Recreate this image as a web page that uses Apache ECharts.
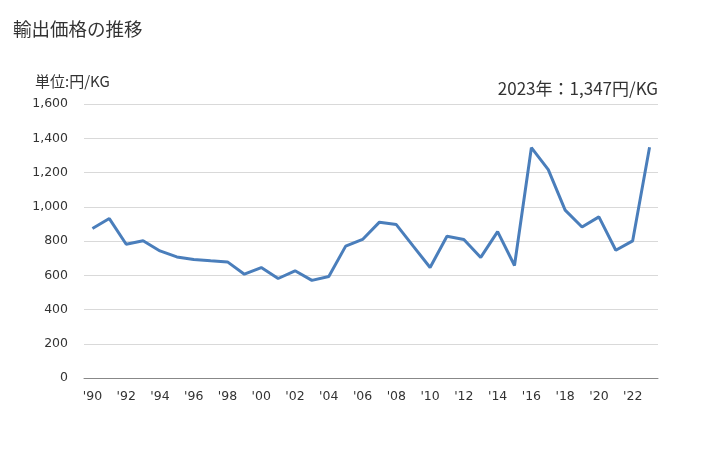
<!DOCTYPE html>
<html><head><meta charset="utf-8">
<script src="https://cdn.jsdelivr.net/npm/echarts@6/dist/echarts.min.js"></script>
<style>html,body{margin:0;padding:0;background:#fff}#c{width:728px;height:450px}</style>
</head><body><div id="c"></div>
<script>
const years = ["'90","'91","'92","'93","'94","'95","'96","'97","'98","'99","'00","'01","'02","'03","'04","'05","'06","'07","'08","'09","'10","'11","'12","'13","'14","'15","'16","'17","'18","'19","'20","'21","'22","'23"];
const values = [873,931,781,801,742,707,692,684,678,606,645,581,626,570,593,770,809,910,896,770,645,828,809,704,855,657,1345,1217,980,882,941,746,801,1347];
const yTicks = [0,200,400,600,800,1000,1200,1400,1600];
const font = "'Noto Sans CJK JP', sans-serif";
const chart = echarts.init(document.getElementById('c'));
chart.setOption({
  animation:false,
  textStyle:{fontFamily:font},
  title:[
    {text:'輸出価格の推移',left:8,top:15,textStyle:{fontSize:18.5,fontWeight:'normal',color:'#333',fontFamily:font}},
    {text:'単位:円/KG',left:30,top:69,textStyle:{fontSize:15,fontWeight:'normal',color:'#333',fontFamily:font}},
    {text:'2023年：1,347円/KG',right:65,top:75,textStyle:{fontSize:17,fontWeight:'normal',color:'#333',fontFamily:font}}
  ],
  grid:{left:84,right:70,top:104,bottom:72,containLabel:false},
  xAxis:{type:'category',data:years,boundaryGap:true,
    axisLine:{lineStyle:{color:'#888'}},axisTick:{show:false},
    axisLabel:{interval:1,color:'#333',fontSize:12.5,margin:12,fontFamily:'DejaVu Sans'}},
  yAxis:{type:'value',min:yTicks[0],max:yTicks[yTicks.length-1],interval:200,
    axisLine:{show:false},axisTick:{show:false},
    splitLine:{lineStyle:{color:'#d9d9d9'}},
    axisLabel:{color:'#333',fontSize:12.5,margin:16,fontFamily:'DejaVu Sans',formatter:v=>v.toLocaleString('en-US')}},
  series:[{type:'line',data:values,symbol:'none',lineStyle:{color:'#4a7ebb',width:3}}]
});
</script></body></html>
